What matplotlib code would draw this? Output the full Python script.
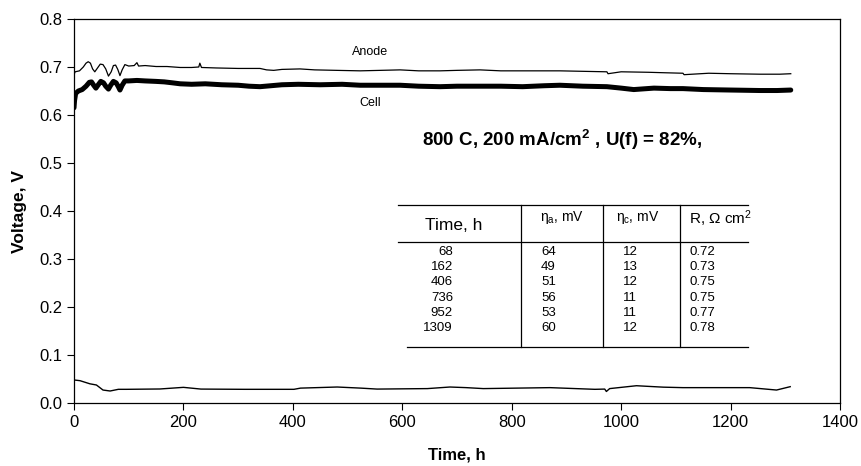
import numpy as np
import matplotlib
matplotlib.use("Agg")
import matplotlib.pyplot as plt
from matplotlib.lines import Line2D

plt.rcParams['font.family'] = ['Liberation Sans', 'DejaVu Sans']
plt.rcParams['mathtext.fontset'] = 'custom'
plt.rcParams['mathtext.rm'] = 'Liberation Sans'
plt.rcParams['mathtext.it'] = 'Liberation Sans'
plt.rcParams['mathtext.bf'] = 'Liberation Sans:bold'

# Anode voltage vs time
anode_t = [0, 2, 10, 17, 22, 26, 30, 34, 38, 43, 48, 53, 58, 63, 68, 72, 76, 80,
           84, 88, 93, 100, 110, 115, 118, 130, 150, 170, 194, 215, 228, 230, 233,
           260, 300, 340, 352, 365, 380, 413, 440, 480, 523, 560, 596, 630, 669,
           700, 742, 780, 820, 888, 930, 974, 976, 1000, 1050, 1080, 1113, 1115,
           1160, 1200, 1254, 1290, 1310]
anode_v = [0.684, 0.690, 0.692, 0.700, 0.708, 0.711, 0.708, 0.696, 0.690, 0.698,
           0.706, 0.705, 0.696, 0.681, 0.690, 0.703, 0.704, 0.695, 0.682, 0.694,
           0.705, 0.702, 0.703, 0.709, 0.702, 0.703, 0.701, 0.701, 0.699, 0.699,
           0.700, 0.708, 0.699, 0.698, 0.697, 0.697, 0.694, 0.693, 0.695, 0.696,
           0.694, 0.693, 0.692, 0.693, 0.694, 0.692, 0.692, 0.693, 0.694, 0.692,
           0.692, 0.692, 0.691, 0.690, 0.686, 0.690, 0.689, 0.688, 0.687, 0.684,
           0.687, 0.686, 0.685, 0.685, 0.686]

# Cell voltage vs time
cell_t = [0, 1, 3, 8, 15, 22, 28, 32, 36, 40, 45, 49, 54, 58, 63, 67, 72, 77,
          81, 84, 88, 93, 100, 115, 130, 150, 165, 180, 194, 215, 240, 270, 300,
          320, 340, 360, 380, 410, 450, 490, 523, 560, 596, 630, 669, 700, 742,
          780, 820, 860, 888, 930, 974, 1000, 1023, 1060, 1090, 1113, 1150, 1200,
          1254, 1285, 1310]
cell_v = [0.615, 0.630, 0.645, 0.650, 0.653, 0.660, 0.668, 0.669, 0.662, 0.656,
          0.664, 0.670, 0.667, 0.660, 0.654, 0.662, 0.670, 0.667, 0.659, 0.652,
          0.662, 0.671, 0.671, 0.672, 0.671, 0.670, 0.669, 0.667, 0.665, 0.664,
          0.665, 0.663, 0.662, 0.660, 0.659, 0.661, 0.663, 0.664, 0.663, 0.664,
          0.662, 0.662, 0.662, 0.660, 0.659, 0.660, 0.660, 0.660, 0.659, 0.661,
          0.662, 0.660, 0.659, 0.656, 0.653, 0.656, 0.655, 0.655, 0.653, 0.652,
          0.651, 0.651, 0.652]

# Lower trace
low_t = [0, 11, 29, 41, 53, 66, 81, 96, 157, 200, 232, 311, 402, 414, 481, 524,
         554, 646, 687, 717, 748, 870, 952, 970, 973, 979, 1028, 1052, 1077, 1113,
         1235, 1284, 1309]
low_v = [0.048, 0.0465, 0.040, 0.0375, 0.027, 0.025, 0.0285, 0.0285, 0.0292,
         0.0326, 0.029, 0.0285, 0.0285, 0.031, 0.0333, 0.031, 0.029, 0.030, 0.0333,
         0.032, 0.030, 0.032, 0.0285, 0.029, 0.024, 0.030, 0.036, 0.0345, 0.033,
         0.032, 0.032, 0.027, 0.034]

# Table contents
col_time = ['68', '162', '406', '736', '952', '1309']
col_eta_a = ['64', '49', '51', '56', '53', '60']
col_eta_c = ['12', '13', '12', '11', '11', '12']
col_r = ['0.72', '0.73', '0.75', '0.75', '0.77', '0.78']

W, H = 862, 466
fig = plt.figure(figsize=(W / 100, H / 100), dpi=100)
ax = fig.add_axes([74 / W, 1 - 403 / H, (840 - 74) / W, (403 - 19) / H])

ax.plot(anode_t, anode_v, color='black', lw=0.9)
ax.plot(cell_t, cell_v, color='black', lw=3.6, solid_joinstyle='round',
        solid_capstyle='round')
ax.plot(low_t, low_v, color='black', lw=1.0)

ax.set_xlim(0, 1400)
ax.set_ylim(0, 0.8)
ax.set_xticks(np.arange(0, 1401, 200))
ax.set_yticks(np.arange(0, 0.81, 0.1))
ax.yaxis.set_major_formatter(matplotlib.ticker.FormatStrFormatter('%.1f'))
ax.tick_params(direction='out', length=5, width=0.8, labelsize=12, color='black')
for s in ax.spines.values():
    s.set_linewidth(0.9)

ax.set_xlabel('Time, h', fontsize=12, fontweight='bold', labelpad=13)
ax.set_ylabel('Voltage, V', fontsize=12.5, fontweight='bold', labelpad=9)

ax.text(541, 0.731, 'Anode', fontsize=9, ha='center', va='center')
ax.text(541, 0.625, 'Cell', fontsize=9, ha='center', va='center')
ax.text(892, 0.548, r'800 C, 200 mA/cm$^\mathbf{2}$ , U(f) = 82%,', fontsize=13.5,
        fontweight='bold', ha='center', va='center')


def fx(x):
    return x / W


def fy(y):
    return 1 - y / H


# table rules
for x0, x1, y in [(398, 748, 205), (398, 748, 242), (407, 748, 347)]:
    fig.add_artist(Line2D([fx(x0), fx(x1)], [fy(y), fy(y)], color='black', lw=0.9))
for x in [521, 603, 680]:
    fig.add_artist(Line2D([fx(x), fx(x)], [fy(205), fy(347)], color='black', lw=0.9))

fig.text(fx(454), fy(226), 'Time, h', fontsize=12.5, ha='center', va='center')
fig.text(fx(540), fy(217), r'$\eta_a$, mV', fontsize=10, ha='left', va='center')
fig.text(fx(616), fy(217), r'$\eta_c$, mV', fontsize=10, ha='left', va='center')
fig.text(fx(689), fy(219), r'R, Ω cm$^2$', fontsize=11, ha='left', va='center')

for i in range(len(col_time)):
    y = 252 + i * 15.2
    fig.text(fx(453), fy(y), col_time[i], fontsize=9.5, ha='right', va='center')
    fig.text(fx(541), fy(y), col_eta_a[i], fontsize=9.5, ha='left', va='center')
    fig.text(fx(623), fy(y), col_eta_c[i], fontsize=9.5, ha='left', va='center')
    fig.text(fx(690), fy(y), col_r[i], fontsize=9.5, ha='left', va='center')

fig.savefig('out.png', dpi=100)
